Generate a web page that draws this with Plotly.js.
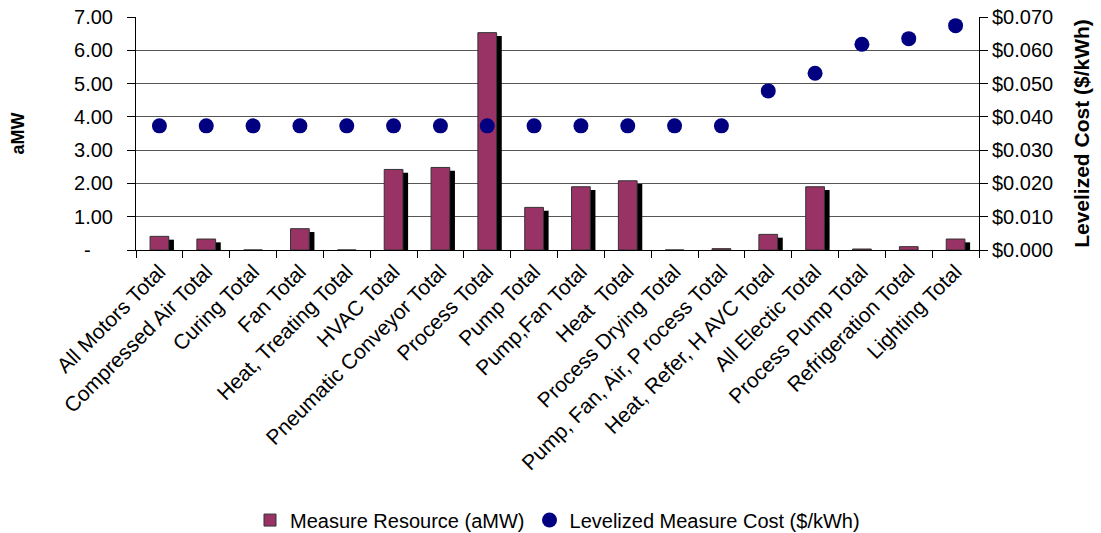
<!DOCTYPE html>
<html>
<head>
<meta charset="utf-8">
<script src="https://cdn.plot.ly/plotly-3.0.1.min.js"></script>
<style>html,body{margin:0;padding:0;background:#fff;}#chart{width:1101px;height:533px;}</style>
</head>
<body>
<div id="chart"></div>
<script>
const categories = ["All Motors Total","Compressed Air Total","Curing Total","Fan Total","Heat, Treating Total","HVAC Total","Pneumatic Conveyor Total","Process Total","Pump Total","Pump,Fan Total","Heat  Total","Process Drying Total","Pump, Fan, Air, P rocess Total","Heat, Refer, H AVC Total","All Electic Total","Process Pump Total","Refrigeration Total","Lighting Total"];
const resourceAMW = [0.41,0.33,0,0.64,0,2.42,2.48,6.53,1.28,1.90,2.08,0,0.04,0.47,1.90,0.03,0.10,0.33];
const costPerKWh = [0.0373,0.0373,0.0373,0.0373,0.0373,0.0373,0.0373,0.0373,0.0373,0.0373,0.0373,0.0373,0.0373,0.0478,0.0531,0.0618,0.0635,0.0674];
const leftTickVals = [0,1,2,3,4,5,6,7];
const leftTickText = ["-\u00a0\u00a0\u00a0\u00a0","1.00","2.00","3.00","4.00","5.00","6.00","7.00"];
const rightTickVals = [0,0.01,0.02,0.03,0.04,0.05,0.06,0.07];
const rightTickText = ["$0.000","$0.010","$0.020","$0.030","$0.040","$0.050","$0.060","$0.070"];

// drop shadow of the bars (styling only: same values, drawn slightly lower and to the right)
const shadowDrop = 0.1;
const shadowY = resourceAMW.map(v => Math.max(v - shadowDrop, 0));

const font = "Liberation Sans, Arial, sans-serif";

const traces = [
  {type:'bar', x:categories, y:shadowY, width:0.4, offset:-0.09,
   marker:{color:'#000000', line:{width:0}}, showlegend:false, hoverinfo:'skip', yaxis:'y'},
  {type:'bar', x:categories, y:resourceAMW, width:0.4, offset:-0.2, name:'Measure Resource (aMW)',
   marker:{color:'#993366', line:{color:'#333333', width:1}}, yaxis:'y'},
  {type:'scatter', mode:'markers', x:categories, y:costPerKWh, name:'Levelized Measure Cost ($/kWh)',
   marker:{color:'#000080', size:15, symbol:'circle'}, yaxis:'y2'}
];

const layout = {
  width:1101, height:533,
  margin:{l:136, r:122, t:17, b:283, autoexpand:false},
  paper_bgcolor:'#ffffff', plot_bgcolor:'#ffffff',
  font:{family:font, size:20, color:'#000'},
  barmode:'overlay',
  showlegend:true,
  legend:{orientation:'h', x:0.5, xanchor:'center', y:-1.159, yanchor:'middle', font:{size:20}, traceorder:'normal', itemwidth:20},
  xaxis:{type:'category', tickangle:-45, ticks:'outside', tickson:'boundaries', ticklen:7, tickcolor:'#000',
    showline:true, linecolor:'#000', linewidth:1, showgrid:false, tickfont:{size:21}, range:[-0.5,17.5], automargin:false},
  yaxis:{range:[0,7], tickvals:leftTickVals, ticktext:leftTickText, ticks:'outside', ticklen:8, tickcolor:'#000',
    ticklabelstandoff:10, automargin:false,
    showline:true, linecolor:'#000', linewidth:1, showgrid:true, gridcolor:'#555', gridwidth:1, zeroline:false,
    tickfont:{size:20}, title:{text:'<b>aMW</b>', font:{size:18}, standoff:44}},
  yaxis2:{range:[0,0.07], overlaying:'y', side:'right', tickvals:rightTickVals, ticktext:rightTickText, automargin:false,
    ticks:'outside', ticklen:8, tickcolor:'#000', showline:true, linecolor:'#000', linewidth:1, showgrid:false, zeroline:false,
    tickfont:{size:20}, title:{text:'<b>Levelized Cost ($/kWh)</b>', font:{size:21}, standoff:22}}
};

Plotly.newPlot('chart', traces, layout, {displayModeBar:false, staticPlot:true});
</script>
</body>
</html>
